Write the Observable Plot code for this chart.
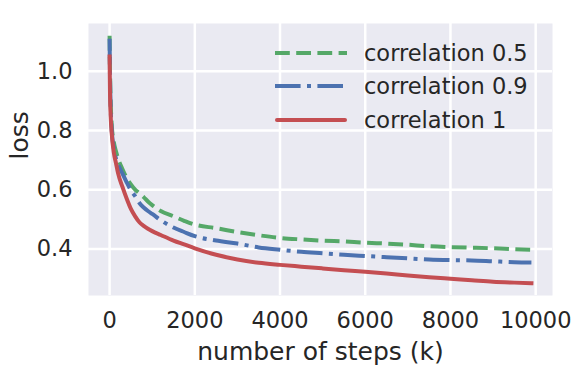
<!DOCTYPE html>
<html><head><meta charset="utf-8">
<script src="https://cdn.jsdelivr.net/npm/d3@7"></script>
<script src="https://cdn.jsdelivr.net/npm/@observablehq/plot@0.6"></script>
<style>
body{margin:0;background:#fff;}
#wrap{position:relative;width:580px;height:375px;font-family:"DejaVu Sans";}
#legend{position:absolute;left:275px;top:36px;}
.row{display:flex;align-items:center;height:33.5px;}
.row span{font-size:22.5px;color:#262626;margin-left:17px;white-space:nowrap;}
.row svg{display:block;}
</style></head><body><div id="wrap"><div id="legend"></div></div>
<script>
const steps   = [0, 10, 25, 50, 100, 150, 200, 300, 400, 500, 600, 700, 800, 900, 1000, 1200, 1500, 1750, 2000, 2500, 3000, 3500, 4000, 4500, 5000, 5500, 6000, 6500, 7000, 7500, 8000, 8500, 9000, 9500, 9900];
const loss05  = [1.12, 1.00, 0.90, 0.82, 0.76, 0.73, 0.705, 0.67, 0.64, 0.618, 0.60, 0.588, 0.575, 0.56, 0.548, 0.528, 0.51, 0.495, 0.482, 0.47, 0.457, 0.446, 0.437, 0.432, 0.428, 0.425, 0.421, 0.418, 0.414, 0.409, 0.406, 0.404, 0.402, 0.399, 0.397];
const loss09  = [1.11, 0.98, 0.88, 0.80, 0.74, 0.705, 0.685, 0.655, 0.625, 0.598, 0.578, 0.555, 0.54, 0.528, 0.518, 0.497, 0.472, 0.457, 0.443, 0.428, 0.418, 0.405, 0.397, 0.39, 0.385, 0.38, 0.376, 0.372, 0.368, 0.364, 0.362, 0.361, 0.358, 0.355, 0.354];
const loss1   = [1.05, 0.92, 0.85, 0.79, 0.725, 0.69, 0.655, 0.61, 0.57, 0.535, 0.51, 0.49, 0.478, 0.468, 0.46, 0.447, 0.428, 0.415, 0.402, 0.38, 0.364, 0.353, 0.346, 0.34, 0.334, 0.328, 0.323, 0.317, 0.31, 0.304, 0.299, 0.294, 0.289, 0.286, 0.284];
const seriesNames = ["correlation 0.5", "correlation 0.9", "correlation 1"];
const xTicks = [0, 2000, 4000, 6000, 8000, 10000];
const yTicks = [0.4, 0.6, 0.8, 1.0];
const xLabel = "number of steps (k)";
const yLabel = "loss";

const colors = ["#55A868", "#4C72B0", "#C44E52"];
const dashes = ["14.8,6.4", "25.6,6.4,4,6.4", null];
const caps = ["butt", "butt", "square"];
const allSeries = [loss05, loss09, loss1];

const tables = allSeries.map((vals, k) => steps.map((s, i) => ({step: s, loss: vals[i], series: seriesNames[k]})));

const lineMarks = tables.map((t, k) => Plot.line(t, {
  x: "step", y: "loss",
  stroke: colors[k], strokeWidth: 4,
  strokeDasharray: dashes[k] || undefined,
  strokeLinecap: caps[k], strokeLinejoin: "round",
  curve: "monotone-x"
}));

const chart = Plot.plot({
  width: 580, height: 375,
  marginLeft: 88, marginRight: 28, marginTop: 23, marginBottom: 80,
  style: {fontFamily: "DejaVu Sans", fontSize: "22.5px", color: "#262626", background: "#fff"},
  x: {domain: [-495, 10395]},
  y: {domain: [0.2425, 1.1615]},
  marks: [
    Plot.frame({fill: "#EAEAF2", stroke: "none"}),
    Plot.gridX(xTicks, {stroke: "white", strokeOpacity: 1, strokeWidth: 2.5}),
    Plot.gridY(yTicks, {stroke: "white", strokeOpacity: 1, strokeWidth: 2.5}),
    Plot.axisX(xTicks, {tickSize: 0, tickPadding: 17, tickFormat: d3.format("d"), label: null, fontSize: 22.5}),
    Plot.axisY(yTicks, {tickSize: 0, tickPadding: 16, tickFormat: d3.format(".1f"), label: null, fontSize: 22.5}),
    ...lineMarks,
    Plot.text([xLabel], {text: d => d, frameAnchor: "bottom", lineAnchor: "bottom", dy: 64.5, fontSize: 25, fill: "#262626"}),
    Plot.text([yLabel], {text: d => d, frameAnchor: "left", lineAnchor: "bottom", rotate: -90, dx: -61, fontSize: 25, fill: "#262626"})
  ]
});
document.getElementById("wrap").prepend(chart);

const legend = document.getElementById("legend");
seriesNames.forEach((name, k) => {
  const row = document.createElement("div");
  row.className = "row";
  const ns = "http://www.w3.org/2000/svg";
  const svg = document.createElementNS(ns, "svg");
  svg.setAttribute("width", 72); svg.setAttribute("height", 8);
  const ln = document.createElementNS(ns, "line");
  ln.setAttribute("x1", k === 2 ? 2 : 0); ln.setAttribute("x2", k === 2 ? 70 : 72);
  ln.setAttribute("y1", 4); ln.setAttribute("y2", 4);
  ln.setAttribute("stroke", colors[k]); ln.setAttribute("stroke-width", 4);
  ln.setAttribute("stroke-linecap", k === 2 ? "round" : "butt");
  if (dashes[k]) ln.setAttribute("stroke-dasharray", dashes[k]);
  svg.appendChild(ln);
  const sp = document.createElement("span");
  sp.textContent = name;
  row.appendChild(svg); row.appendChild(sp);
  legend.appendChild(row);
});
</script></body></html>
